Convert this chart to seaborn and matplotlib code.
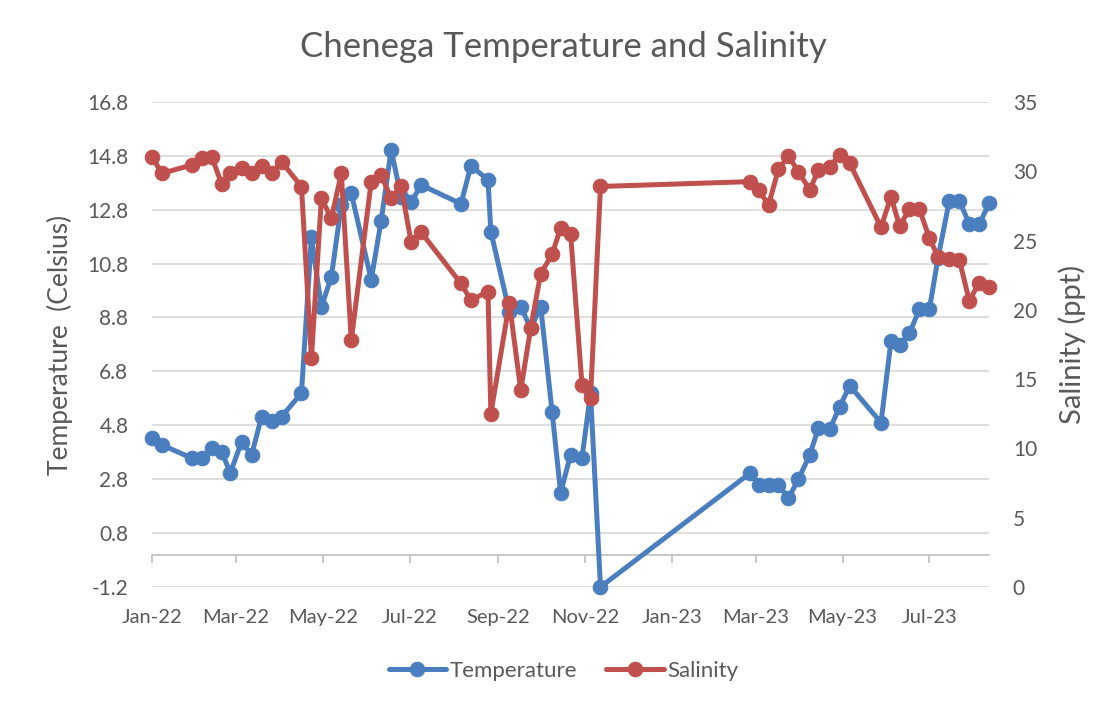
import numpy as np
import pandas as pd
import matplotlib
matplotlib.use("Agg")
import matplotlib.pyplot as plt
import matplotlib.dates as mdates
import seaborn as sns

# sampling dates
dates = [
    "2022-01-01", "2022-01-08", "2022-01-29", "2022-02-05", "2022-02-12", "2022-02-19",
    "2022-02-25", "2022-03-05", "2022-03-12", "2022-03-19", "2022-03-26", "2022-04-02",
    "2022-04-16", "2022-04-23", "2022-04-30", "2022-05-07", "2022-05-14", "2022-05-21",
    "2022-06-04", "2022-06-11", "2022-06-18", "2022-06-25", "2022-07-02", "2022-07-09",
    "2022-08-06", "2022-08-13", "2022-08-25", "2022-08-27", "2022-09-09", "2022-09-17",
    "2022-09-24", "2022-10-01", "2022-10-09", "2022-10-15", "2022-10-22", "2022-10-30",
    "2022-11-05", "2022-11-12",
    "2023-02-25", "2023-03-03", "2023-03-10", "2023-03-17", "2023-03-24", "2023-03-31",
    "2023-04-08", "2023-04-14", "2023-04-22", "2023-04-29", "2023-05-06", "2023-05-28",
    "2023-06-04", "2023-06-10", "2023-06-17", "2023-06-24", "2023-07-01", "2023-07-07",
    "2023-07-15", "2023-07-22", "2023-07-29", "2023-08-05", "2023-08-12",
]

temperature = [
    4.32, 4.07, 3.58, 3.58, 3.95, 3.82,
    3.03, 4.19, 3.70, 5.12, 4.94, 5.12,
    5.99, 11.77, 9.19, 10.31, 12.98, 13.41,
    10.20, 12.40, 15.02, 13.28, 13.07, 13.72,
    13.02, 14.43, 13.91, 11.99, 9.02, 9.20,
    8.40, 9.20, 5.31, 2.30, 3.70, 3.58,
    5.99, -1.20,
    3.02, 2.59, 2.59, 2.59, 2.09, 2.80,
    3.70, 4.69, 4.65, 5.49, 6.27, 4.90,
    7.91, 7.78, 8.22, 9.11, 9.11, 11.00,
    13.14, 13.14, 12.27, 12.27, 13.04,
]

salinity = [
    31.05, 29.85, 30.45, 30.94, 31.05, 29.06,
    29.85, 30.22, 29.85, 30.38, 29.85, 30.69,
    28.89, 16.50, 28.05, 26.60, 29.85, 17.80,
    29.25, 29.70, 28.05, 28.90, 24.90, 25.60,
    21.90, 20.70, 21.30, 12.50, 20.50, 14.20,
    18.70, 22.60, 24.00, 25.90, 25.50, 14.60,
    13.60, 28.90,
    29.25, 28.65, 27.57, 30.14, 31.10, 29.97,
    28.65, 30.09, 30.33, 31.18, 30.58, 25.96,
    28.17, 26.05, 27.26, 27.26, 25.16, 23.84,
    23.65, 23.60, 20.66, 21.96, 21.67,
]

temp_ticks = [-1.2, 0.8, 2.8, 4.8, 6.8, 8.8, 10.8, 12.8, 14.8, 16.8]
sal_ticks = [0, 5, 10, 15, 20, 25, 30, 35]

df = pd.DataFrame({"date": pd.to_datetime(dates), "temperature": temperature, "salinity": salinity})

blue = "#4a7ebf"
red = "#c0504d"
txt = "#595959"
grid = "#d9d9d9"

sns.set_style("white")
plt.rcParams["font.family"] = ["Lato", "DejaVu Sans"]

fig = plt.figure(figsize=(11.09, 7.08), dpi=100)
ax = fig.add_axes([0.137, 0.171, 0.755, 0.685])
ax2 = ax.twinx()

sns.lineplot(data=df, x="date", y="temperature", ax=ax, color=blue, marker="o",
             markersize=10.5, markeredgecolor=blue, linewidth=3.6, label="Temperature",
             legend=False, clip_on=False)
sns.lineplot(data=df, x="date", y="salinity", ax=ax2, color=red, marker="o",
             markersize=10.5, markeredgecolor=red, linewidth=3.6, label="Salinity",
             legend=False, clip_on=False)

ax.set_xlim(df["date"].min(), df["date"].max())
ax.set_ylim(-1.2, 16.8)
ax.set_yticks(temp_ticks)
ax.set_yticklabels([f"{t:.1f}" for t in temp_ticks])
ax2.set_ylim(0, 35)
ax2.set_yticks(sal_ticks)

ax.xaxis.set_major_locator(mdates.MonthLocator(bymonth=[1, 3, 5, 7, 9, 11]))
ax.xaxis.set_major_formatter(mdates.DateFormatter("%b-%y"))

ax.grid(axis="y", color=grid, linewidth=1.2)
ax.set_axisbelow(True)
for a in (ax, ax2):
    for s in a.spines.values():
        s.set_visible(False)

ax.tick_params(axis="x", length=0, pad=16, labelsize=14.5, labelcolor=txt)
ax.tick_params(axis="y", length=0, pad=17, labelsize=15, labelcolor=txt)
ax2.tick_params(axis="y", length=0, pad=17, labelsize=15, labelcolor=txt)

# horizontal axis line drawn at temperature = 0, as in the original
zero_pos = (0 - (-1.2)) / (16.8 - (-1.2))
secax = ax.secondary_xaxis(zero_pos)
secax.xaxis.set_major_locator(mdates.MonthLocator(bymonth=[1, 3, 5, 7, 9, 11]))
secax.tick_params(axis="x", length=6, width=1.2, color="#bfbfbf", labelbottom=False)
secax.spines["bottom"].set_color("#bfbfbf")
secax.spines["bottom"].set_linewidth(1.2)

ax.set_xlabel("")
ax.set_ylabel("Temperature  (Celsius)", fontsize=19, color=txt, labelpad=10)
ax2.set_ylabel("Salinity (ppt)", fontsize=21, color=txt, labelpad=15)

fig.suptitle("Chenega Temperature and Salinity", x=0.508, y=0.934, va="center",
             fontsize=25, color=txt)

h1, l1 = ax.get_legend_handles_labels()
h2, l2 = ax2.get_legend_handles_labels()
fig.legend(h1 + h2, l1 + l2, loc="center", bbox_to_anchor=(0.508, 0.052), ncol=2,
           frameon=False, fontsize=16, labelcolor=txt, handlelength=2.6,
           handletextpad=0.15, columnspacing=1.3)

fig.savefig("out.png", dpi=100, facecolor="white")
